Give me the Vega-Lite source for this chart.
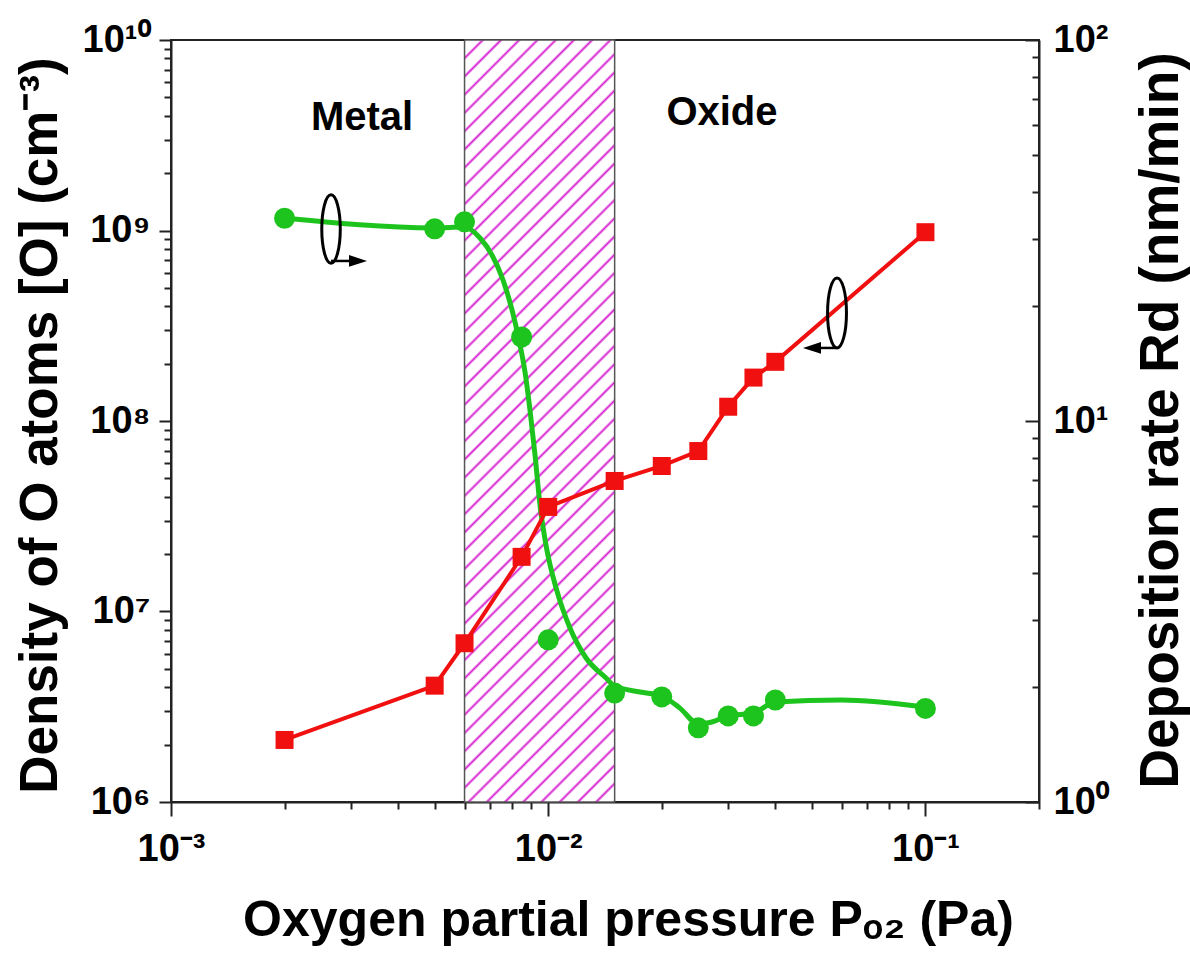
{
  "$schema": "https://vega.github.io/schema/vega-lite/v6.json",
  "width": 868,
  "height": 762,
  "autosize": {"type": "none"},
  "padding": {"left": 171, "top": 40, "right": 151, "bottom": 160},
  "background": "white",
  "config": {
    "view": {"stroke": "#222222", "strokeWidth": 2},
    "axis": {
      "grid": false,
      "domainColor": "#222222",
      "domainWidth": 2,
      "tickColor": "#222222",
      "tickWidth": 2,
      "labelFont": "Liberation Sans",
      "labelFontWeight": "bold",
      "labelFontSize": 38,
      "labelColor": "black",
      "titleFont": "Liberation Sans",
      "titleFontWeight": "bold",
      "titleFontSize": 50,
      "titleColor": "black",
      "labelOverlap": false,
      "labelFlush": false,
      "labelBound": false
    },
    "text": {"font": "Liberation Sans"}
  },
  "datasets": {
    "density": [
      {"p": 0.002, "dens": 1.16e9},
      {"p": 0.005, "dens": 1.02e9},
      {"p": 0.006, "dens": 1.11e9},
      {"p": 0.0085, "dens": 2.76e8},
      {"p": 0.01, "dens": 7.1e6},
      {"p": 0.015, "dens": 3.73e6},
      {"p": 0.02, "dens": 3.56e6},
      {"p": 0.025, "dens": 2.45e6},
      {"p": 0.03, "dens": 2.83e6},
      {"p": 0.035, "dens": 2.83e6},
      {"p": 0.04, "dens": 3.43e6},
      {"p": 0.1, "dens": 3.1e6}
    ],
    "density_fit": [
      {"p": 0.002, "dens": 1.163e9},
      {"p": 0.005, "dens": 1.031e9},
      {"p": 0.006, "dens": 1.043e9},
      {"p": 0.006595, "dens": 9.13e8},
      {"p": 0.007096, "dens": 7.43e8},
      {"p": 0.007589, "dens": 5.5e8},
      {"p": 0.008017, "dens": 3.83e8},
      {"p": 0.008366, "dens": 2.66e8},
      {"p": 0.008678, "dens": 1.81e8},
      {"p": 0.008946, "dens": 1.142e8},
      {"p": 0.009226, "dens": 6.63e7},
      {"p": 0.00951, "dens": 3.62e7},
      {"p": 0.009865, "dens": 2.23e7},
      {"p": 0.01049, "dens": 1.329e7},
      {"p": 0.01142, "dens": 8.19e6},
      {"p": 0.0126, "dens": 5.7e6},
      {"p": 0.01423, "dens": 4.48e6},
      {"p": 0.015, "dens": 4.06e6},
      {"p": 0.01751, "dens": 3.78e6},
      {"p": 0.02, "dens": 3.6e6},
      {"p": 0.02234, "dens": 3.11e6},
      {"p": 0.025, "dens": 2.57e6},
      {"p": 0.02717, "dens": 2.63e6},
      {"p": 0.03, "dens": 2.83e6},
      {"p": 0.035, "dens": 2.93e6},
      {"p": 0.04, "dens": 3.35e6},
      {"p": 0.06, "dens": 3.43e6},
      {"p": 0.1, "dens": 3.15e6}
    ],
    "rate": [
      {"p": 0.002, "rate": 1.455},
      {"p": 0.005, "rate": 2.02},
      {"p": 0.006, "rate": 2.61},
      {"p": 0.0085, "rate": 4.4},
      {"p": 0.01, "rate": 5.95},
      {"p": 0.015, "rate": 6.96},
      {"p": 0.02, "rate": 7.62},
      {"p": 0.025, "rate": 8.34},
      {"p": 0.03, "rate": 10.9},
      {"p": 0.035, "rate": 13.0},
      {"p": 0.04, "rate": 14.3},
      {"p": 0.1, "rate": 31.3}
    ],
    "transition": [
      {"p_start": 0.006, "p_end": 0.015}
    ],
    "regimes": [
      {"p": 0.003209, "dens": 3.9e9, "label": "Metal"},
      {"p": 0.02888, "dens": 4.14e9, "label": "Oxide"}
    ],
    "density_key": [
      {"p": 0.002656, "p_end": 0.003019, "p_head": 0.003131, "dens": 1.018e9, "dens_arrow": 6.92e8}
    ],
    "rate_key": [
      {"p": 0.05829, "p_line": 0.05793, "p_end": 0.0519, "p_head": 0.05004, "rate": 19.21, "rate_arrow": 15.55}
    ]
  },
  "encoding": {
    "x": {
      "field": "p",
      "type": "quantitative",
      "scale": {"type": "log", "domain": [0.001, 0.2], "nice": false},
      "axis": {
        "orient": "bottom",
        "title": "Oxygen partial pressure Pₒ₂ (Pa)",
        "values": [0.001, 0.002, 0.003, 0.004, 0.005, 0.006, 0.007, 0.008, 0.009, 0.01, 0.02, 0.03, 0.04, 0.05, 0.06, 0.07, 0.08, 0.09, 0.1, 0.2],
        "tickSize": {"condition": {"test": "abs(log(datum.value)/LN10 - round(log(datum.value)/LN10)) < 0.001", "value": 14}, "value": 7},
        "labelExpr": "datum.value === 0.001 ? '10⁻³' : datum.value === 0.01 ? '10⁻²' : datum.value === 0.1 ? '10⁻¹' : ''",
        "labelPadding": 14,
        "titleX": 457,
        "titleY": 118,
        "titleAlign": "center",
        "titleBaseline": "middle"
      }
    }
  },
  "layer": [
    {
      "data": {"name": "transition"},
      "mark": {
        "type": "rect",
        "stroke": "#555555",
        "strokeWidth": 1.5,
        "fill": {
          "gradient": "linear",
          "x1": 0, "y1": 0, "x2": 0.227, "y2": 1.152,
          "stops": [
            {"offset": 0, "color": "#d61ed0"}, {"offset": 0.003, "color": "#ffffff"},
            {"offset": 0.017, "color": "#ffffff"}, {"offset": 0.02, "color": "#d61ed0"}, {"offset": 0.023, "color": "#ffffff"},
            {"offset": 0.037, "color": "#ffffff"}, {"offset": 0.04, "color": "#d61ed0"}, {"offset": 0.043, "color": "#ffffff"},
            {"offset": 0.057, "color": "#ffffff"}, {"offset": 0.06, "color": "#d61ed0"}, {"offset": 0.063, "color": "#ffffff"},
            {"offset": 0.077, "color": "#ffffff"}, {"offset": 0.08, "color": "#d61ed0"}, {"offset": 0.083, "color": "#ffffff"},
            {"offset": 0.097, "color": "#ffffff"}, {"offset": 0.1, "color": "#d61ed0"}, {"offset": 0.103, "color": "#ffffff"},
            {"offset": 0.117, "color": "#ffffff"}, {"offset": 0.12, "color": "#d61ed0"}, {"offset": 0.123, "color": "#ffffff"},
            {"offset": 0.137, "color": "#ffffff"}, {"offset": 0.14, "color": "#d61ed0"}, {"offset": 0.143, "color": "#ffffff"},
            {"offset": 0.157, "color": "#ffffff"}, {"offset": 0.16, "color": "#d61ed0"}, {"offset": 0.163, "color": "#ffffff"},
            {"offset": 0.177, "color": "#ffffff"}, {"offset": 0.18, "color": "#d61ed0"}, {"offset": 0.183, "color": "#ffffff"},
            {"offset": 0.197, "color": "#ffffff"}, {"offset": 0.2, "color": "#d61ed0"}, {"offset": 0.203, "color": "#ffffff"},
            {"offset": 0.217, "color": "#ffffff"}, {"offset": 0.22, "color": "#d61ed0"}, {"offset": 0.223, "color": "#ffffff"},
            {"offset": 0.237, "color": "#ffffff"}, {"offset": 0.24, "color": "#d61ed0"}, {"offset": 0.243, "color": "#ffffff"},
            {"offset": 0.257, "color": "#ffffff"}, {"offset": 0.26, "color": "#d61ed0"}, {"offset": 0.263, "color": "#ffffff"},
            {"offset": 0.277, "color": "#ffffff"}, {"offset": 0.28, "color": "#d61ed0"}, {"offset": 0.283, "color": "#ffffff"},
            {"offset": 0.297, "color": "#ffffff"}, {"offset": 0.3, "color": "#d61ed0"}, {"offset": 0.303, "color": "#ffffff"},
            {"offset": 0.317, "color": "#ffffff"}, {"offset": 0.32, "color": "#d61ed0"}, {"offset": 0.323, "color": "#ffffff"},
            {"offset": 0.337, "color": "#ffffff"}, {"offset": 0.34, "color": "#d61ed0"}, {"offset": 0.343, "color": "#ffffff"},
            {"offset": 0.357, "color": "#ffffff"}, {"offset": 0.36, "color": "#d61ed0"}, {"offset": 0.363, "color": "#ffffff"},
            {"offset": 0.377, "color": "#ffffff"}, {"offset": 0.38, "color": "#d61ed0"}, {"offset": 0.383, "color": "#ffffff"},
            {"offset": 0.397, "color": "#ffffff"}, {"offset": 0.4, "color": "#d61ed0"}, {"offset": 0.403, "color": "#ffffff"},
            {"offset": 0.417, "color": "#ffffff"}, {"offset": 0.42, "color": "#d61ed0"}, {"offset": 0.423, "color": "#ffffff"},
            {"offset": 0.437, "color": "#ffffff"}, {"offset": 0.44, "color": "#d61ed0"}, {"offset": 0.443, "color": "#ffffff"},
            {"offset": 0.457, "color": "#ffffff"}, {"offset": 0.46, "color": "#d61ed0"}, {"offset": 0.463, "color": "#ffffff"},
            {"offset": 0.477, "color": "#ffffff"}, {"offset": 0.48, "color": "#d61ed0"}, {"offset": 0.483, "color": "#ffffff"},
            {"offset": 0.497, "color": "#ffffff"}, {"offset": 0.5, "color": "#d61ed0"}, {"offset": 0.503, "color": "#ffffff"},
            {"offset": 0.517, "color": "#ffffff"}, {"offset": 0.52, "color": "#d61ed0"}, {"offset": 0.523, "color": "#ffffff"},
            {"offset": 0.537, "color": "#ffffff"}, {"offset": 0.54, "color": "#d61ed0"}, {"offset": 0.543, "color": "#ffffff"},
            {"offset": 0.557, "color": "#ffffff"}, {"offset": 0.56, "color": "#d61ed0"}, {"offset": 0.563, "color": "#ffffff"},
            {"offset": 0.577, "color": "#ffffff"}, {"offset": 0.58, "color": "#d61ed0"}, {"offset": 0.583, "color": "#ffffff"},
            {"offset": 0.597, "color": "#ffffff"}, {"offset": 0.6, "color": "#d61ed0"}, {"offset": 0.603, "color": "#ffffff"},
            {"offset": 0.617, "color": "#ffffff"}, {"offset": 0.62, "color": "#d61ed0"}, {"offset": 0.623, "color": "#ffffff"},
            {"offset": 0.637, "color": "#ffffff"}, {"offset": 0.64, "color": "#d61ed0"}, {"offset": 0.643, "color": "#ffffff"},
            {"offset": 0.657, "color": "#ffffff"}, {"offset": 0.66, "color": "#d61ed0"}, {"offset": 0.663, "color": "#ffffff"},
            {"offset": 0.677, "color": "#ffffff"}, {"offset": 0.68, "color": "#d61ed0"}, {"offset": 0.683, "color": "#ffffff"},
            {"offset": 0.697, "color": "#ffffff"}, {"offset": 0.7, "color": "#d61ed0"}, {"offset": 0.703, "color": "#ffffff"},
            {"offset": 0.717, "color": "#ffffff"}, {"offset": 0.72, "color": "#d61ed0"}, {"offset": 0.723, "color": "#ffffff"},
            {"offset": 0.737, "color": "#ffffff"}, {"offset": 0.74, "color": "#d61ed0"}, {"offset": 0.743, "color": "#ffffff"},
            {"offset": 0.757, "color": "#ffffff"}, {"offset": 0.76, "color": "#d61ed0"}, {"offset": 0.763, "color": "#ffffff"},
            {"offset": 0.777, "color": "#ffffff"}, {"offset": 0.78, "color": "#d61ed0"}, {"offset": 0.783, "color": "#ffffff"},
            {"offset": 0.797, "color": "#ffffff"}, {"offset": 0.8, "color": "#d61ed0"}, {"offset": 0.803, "color": "#ffffff"},
            {"offset": 0.817, "color": "#ffffff"}, {"offset": 0.82, "color": "#d61ed0"}, {"offset": 0.823, "color": "#ffffff"},
            {"offset": 0.837, "color": "#ffffff"}, {"offset": 0.84, "color": "#d61ed0"}, {"offset": 0.843, "color": "#ffffff"},
            {"offset": 0.857, "color": "#ffffff"}, {"offset": 0.86, "color": "#d61ed0"}, {"offset": 0.863, "color": "#ffffff"},
            {"offset": 0.877, "color": "#ffffff"}, {"offset": 0.88, "color": "#d61ed0"}, {"offset": 0.883, "color": "#ffffff"},
            {"offset": 0.897, "color": "#ffffff"}, {"offset": 0.9, "color": "#d61ed0"}, {"offset": 0.903, "color": "#ffffff"},
            {"offset": 0.917, "color": "#ffffff"}, {"offset": 0.92, "color": "#d61ed0"}, {"offset": 0.923, "color": "#ffffff"},
            {"offset": 0.937, "color": "#ffffff"}, {"offset": 0.94, "color": "#d61ed0"}, {"offset": 0.943, "color": "#ffffff"},
            {"offset": 0.957, "color": "#ffffff"}, {"offset": 0.96, "color": "#d61ed0"}, {"offset": 0.963, "color": "#ffffff"},
            {"offset": 0.977, "color": "#ffffff"}, {"offset": 0.98, "color": "#d61ed0"}, {"offset": 0.983, "color": "#ffffff"},
            {"offset": 0.997, "color": "#ffffff"}, {"offset": 1, "color": "#d61ed0"}
          ]
        }
      },
      "encoding": {
        "x": {"field": "p_start", "type": "quantitative", "scale": {"type": "log", "domain": [0.001, 0.2], "nice": false}},
        "x2": {"field": "p_end"}
      }
    },
    {
      "encoding": {
        "y": {
          "field": "dens",
          "type": "quantitative",
          "scale": {"type": "log", "domain": [1000000, 10000000000], "nice": false},
          "axis": {
            "orient": "left",
            "title": "Density of O atoms [O] (cm⁻³)",
            "values": [1000000, 2000000, 3000000, 4000000, 5000000, 6000000, 7000000, 8000000, 9000000,
                       10000000, 20000000, 30000000, 40000000, 50000000, 60000000, 70000000, 80000000, 90000000,
                       100000000, 200000000, 300000000, 400000000, 500000000, 600000000, 700000000, 800000000, 900000000,
                       1000000000, 2000000000, 3000000000, 4000000000, 5000000000, 6000000000, 7000000000, 8000000000, 9000000000,
                       10000000000],
            "tickSize": {"condition": {"test": "abs(log(datum.value)/LN10 - round(log(datum.value)/LN10)) < 0.001", "value": 12}, "value": 7},
            "labelExpr": "datum.value === 1000000 ? '10⁶' : datum.value === 10000000 ? '10⁷' : datum.value === 100000000 ? '10⁸' : datum.value === 1000000000 ? '10⁹' : datum.value === 10000000000 ? '10¹⁰' : ''",
            "labelPadding": 9,
            "titleFontSize": 53,
            "titleAngle": -90,
            "titleX": -131,
            "titleY": 385,
            "titleAlign": "center",
            "titleBaseline": "middle"
          }
        }
      },
      "layer": [
        {
          "data": {"name": "density_fit"},
          "mark": {"type": "line", "color": "#1ec41e", "strokeWidth": 5, "interpolate": "monotone"}
        },
        {
          "data": {"name": "density"},
          "mark": {"type": "point", "shape": "circle", "filled": true, "size": 441, "color": "#1ec41e", "opacity": 1}
        },
        {
          "data": {"name": "regimes"},
          "mark": {"type": "text", "fontSize": 40, "fontWeight": "bold", "color": "black", "align": "center", "baseline": "middle"},
          "encoding": {"text": {"field": "label"}}
        },
        {
          "data": {"name": "density_key"},
          "mark": {"type": "point", "shape": "M0,-1C0.149,-1,0.27,-0.552,0.27,0C0.27,0.552,0.149,1,0,1C-0.149,1,-0.27,0.552,-0.27,0C-0.27,-0.552,-0.149,-1,0,-1Z", "size": 4700, "filled": false, "stroke": "black", "strokeWidth": 3, "opacity": 1}
        },
        {
          "data": {"name": "density_key"},
          "mark": {"type": "rule", "color": "black", "strokeWidth": 2.5},
          "encoding": {
            "x2": {"field": "p_end"},
            "y": {"field": "dens_arrow", "type": "quantitative", "scale": {"type": "log", "domain": [1000000, 10000000000], "nice": false}}
          }
        },
        {
          "data": {"name": "density_key"},
          "mark": {"type": "point", "shape": "M1,0L-1,-0.65L-1,0.65Z", "size": 324, "filled": true, "color": "black", "opacity": 1},
          "encoding": {
            "x": {"field": "p_head", "type": "quantitative", "scale": {"type": "log", "domain": [0.001, 0.2], "nice": false}},
            "y": {"field": "dens_arrow", "type": "quantitative", "scale": {"type": "log", "domain": [1000000, 10000000000], "nice": false}}
          }
        }
      ]
    },
    {
      "encoding": {
        "y": {
          "field": "rate",
          "type": "quantitative",
          "scale": {"type": "log", "domain": [1, 100], "nice": false},
          "axis": {
            "orient": "right",
            "title": "Deposition rate Rd (nm/min)",
            "values": [1, 2, 3, 4, 5, 6, 7, 8, 9, 10, 20, 30, 40, 50, 60, 70, 80, 90, 100],
            "tickSize": {"condition": {"test": "abs(log(datum.value)/LN10 - round(log(datum.value)/LN10)) < 0.001", "value": -14}, "value": -7},
            "labelExpr": "datum.value === 1 ? '10⁰' : datum.value === 10 ? '10¹' : datum.value === 100 ? '10²' : ''",
            "labelPadding": 28,
            "titleFontSize": 55,
            "titleAngle": -90,
            "titleX": 121,
            "titleY": 380,
            "titleAlign": "center",
            "titleBaseline": "middle"
          }
        }
      },
      "layer": [
        {
          "data": {"name": "rate"},
          "mark": {"type": "line", "color": "#f01010", "strokeWidth": 4}
        },
        {
          "data": {"name": "rate"},
          "mark": {"type": "point", "shape": "square", "filled": true, "size": 324, "color": "#f01010", "opacity": 1}
        },
        {
          "data": {"name": "rate_key"},
          "mark": {"type": "point", "shape": "M0,-1C0.149,-1,0.27,-0.552,0.27,0C0.27,0.552,0.149,1,0,1C-0.149,1,-0.27,0.552,-0.27,0C-0.27,-0.552,-0.149,-1,0,-1Z", "size": 4900, "filled": false, "stroke": "black", "strokeWidth": 3, "opacity": 1}
        },
        {
          "data": {"name": "rate_key"},
          "mark": {"type": "rule", "color": "black", "strokeWidth": 2.5},
          "encoding": {
            "x": {"field": "p_line", "type": "quantitative", "scale": {"type": "log", "domain": [0.001, 0.2], "nice": false}},
            "x2": {"field": "p_end"},
            "y": {"field": "rate_arrow", "type": "quantitative", "scale": {"type": "log", "domain": [1, 100], "nice": false}}
          }
        },
        {
          "data": {"name": "rate_key"},
          "mark": {"type": "point", "shape": "M-1,0L1,-0.65L1,0.65Z", "size": 324, "filled": true, "color": "black", "opacity": 1},
          "encoding": {
            "x": {"field": "p_head", "type": "quantitative", "scale": {"type": "log", "domain": [0.001, 0.2], "nice": false}},
            "y": {"field": "rate_arrow", "type": "quantitative", "scale": {"type": "log", "domain": [1, 100], "nice": false}}
          }
        }
      ]
    }
  ],
  "resolve": {"scale": {"y": "independent"}}
}
